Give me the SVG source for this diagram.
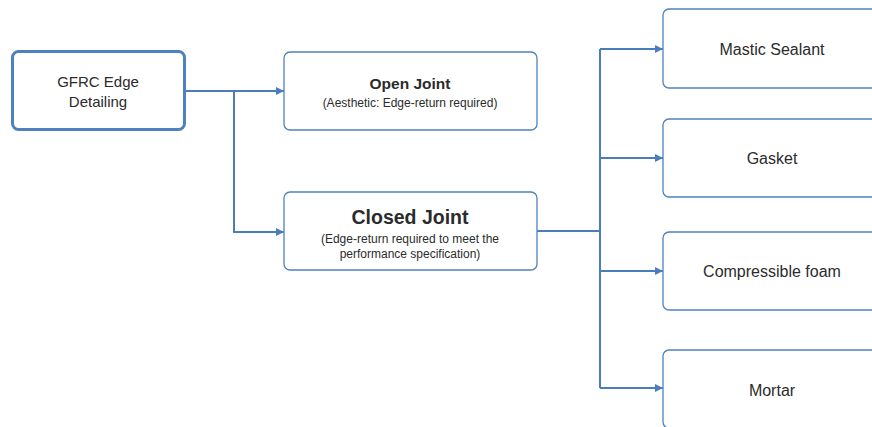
<svg xmlns="http://www.w3.org/2000/svg" width="872" height="427" viewBox="0 0 872 427">
<style>
.box{fill:#fff;stroke:#4f81bd;stroke-width:1.3}
.root{fill:#fff;stroke:#4f81bd;stroke-width:3}
.t{font-family:"Liberation Sans",Arial,sans-serif;fill:#2b2b2b;text-anchor:middle}
.c{fill:none;stroke:#4a7ebb;stroke-width:2}
</style>
<defs>
<marker id="ah" markerWidth="8" markerHeight="8" refX="8" refY="4" orient="auto" markerUnits="userSpaceOnUse">
<path d="M0,0 L8,4 L0,8 Z" fill="#4a7ebb"/>
</marker>
</defs>
<rect width="872" height="427" fill="#fff"/>
<g id="connectors">
<path class="c" d="M184,91 H284" marker-end="url(#ah)"/>
<path class="c" d="M234,91 V232 H284" marker-end="url(#ah)"/>
<path class="c" d="M537,231 H600"/>
<path class="c" d="M600,49 V388"/>
<path class="c" d="M600,49 H663" marker-end="url(#ah)"/>
<path class="c" d="M600,158 H663" marker-end="url(#ah)"/>
<path class="c" d="M600,271 H663" marker-end="url(#ah)"/>
<path class="c" d="M600,388 H663" marker-end="url(#ah)"/>
</g>
<g id="root">
<rect class="root" x="12.5" y="51.5" width="172" height="78" rx="6"/>
<text class="t" x="98" y="87" font-size="15">GFRC Edge</text>
<text class="t" x="98" y="107" font-size="15">Detailing</text>
</g>
<g id="open">
<rect class="box" x="284" y="52" width="253" height="78" rx="6"/>
<text class="t" x="410" y="89" font-size="15.5" font-weight="bold">Open Joint</text>
<text class="t" x="410" y="107" font-size="12">(Aesthetic: Edge-return required)</text>
</g>
<g id="closed">
<rect class="box" x="284" y="192" width="253" height="78" rx="6"/>
<text class="t" x="410" y="224" font-size="19.5" font-weight="bold">Closed Joint</text>
<text class="t" x="410" y="243" font-size="12">(Edge-return required to meet the</text>
<text class="t" x="410" y="258" font-size="12">performance specification)</text>
</g>
<g id="mastic">
<rect class="box" x="663" y="9" width="218" height="79" rx="6"/>
<text class="t" x="772" y="55" font-size="16">Mastic Sealant</text>
</g>
<g id="gasket">
<rect class="box" x="663" y="119" width="218" height="78" rx="6"/>
<text class="t" x="772" y="164" font-size="16">Gasket</text>
</g>
<g id="foam">
<rect class="box" x="663" y="232" width="218" height="78" rx="6"/>
<text class="t" x="772" y="277" font-size="16">Compressible foam</text>
</g>
<g id="mortar">
<rect class="box" x="663" y="350" width="218" height="78" rx="6"/>
<text class="t" x="772" y="396" font-size="16">Mortar</text>
</g>
</svg>
